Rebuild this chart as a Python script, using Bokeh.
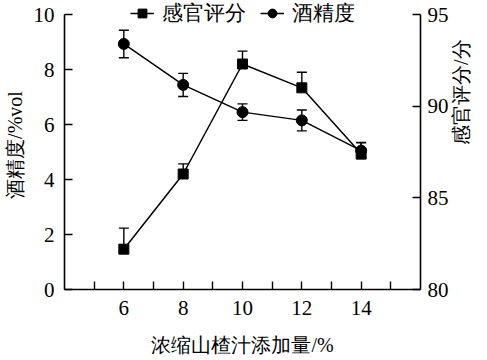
import math
from bokeh.plotting import figure
from bokeh.models import (Range1d, LinearAxis, FixedTicker, Whisker, TeeHead,
                          ColumnDataSource, Legend, LegendItem)
from bokeh.embed import file_html
from bokeh.resources import INLINE

# data
x = [6, 8, 10, 12, 14]
alcohol = [8.93, 7.44, 6.45, 6.15, 5.05]
alcohol_err = [0.5, 0.42, 0.3, 0.38, 0.3]
score = [82.2, 86.3, 92.3, 91.0, 87.4]
score_err = [1.15, 0.55, 0.7, 0.85, 0.6]
x_ticks = [6, 8, 10, 12, 14]
x_minor = [5, 7, 9, 11, 13, 15]
left_ticks = [0, 2, 4, 6, 8, 10]
right_ticks = [80, 85, 90, 95]
xlabel = "浓缩山楂汁添加量/%"
ylabel_left = "酒精度/%vol"
ylabel_right = "感官评分/分"
name_score = "感官评分"
name_alcohol = "酒精度"

FONT = "Liberation Serif"

# frame spans canvas y 0..289; axis lines run from value 0 (y=289) to 10 (y=14)
EXT = 289 / 275

src_a = ColumnDataSource(dict(x=x, y=alcohol,
                              lo=[a - e for a, e in zip(alcohol, alcohol_err)],
                              hi=[a + e for a, e in zip(alcohol, alcohol_err)]))
src_s = ColumnDataSource(dict(x=x, y=score,
                              hi=[s + e for s, e in zip(score, score_err)]))

p = figure(width=487, height=360, output_backend="svg", toolbar_location=None,
           x_range=Range1d(4, 16), y_range=Range1d(0, 10 * EXT),
           min_border_left=64, min_border_right=67, min_border_top=0,
           min_border_bottom=71)
p.extra_y_ranges = {"score": Range1d(80, 80 + 15 * EXT)}
p.outline_line_color = None
p.grid.grid_line_color = None
p.background_fill_color = "white"

def style_axis(ax):
    ax.axis_line_width = 1.6
    ax.axis_line_color = "black"
    ax.major_tick_in = 8
    ax.major_tick_out = 0
    ax.minor_tick_in = 8
    ax.minor_tick_out = 0
    ax.major_tick_line_width = 1.4
    ax.minor_tick_line_width = 1.4
    ax.major_label_text_font = FONT
    ax.major_label_text_font_size = "21px"
    ax.major_label_text_color = "black"
    ax.axis_label_text_font = FONT
    ax.axis_label_text_font_size = "20px"
    ax.axis_label_text_font_style = "normal"
    ax.axis_label_text_color = "black"

xa = p.xaxis[0]
xa.ticker = FixedTicker(ticks=x_ticks, minor_ticks=x_minor)
xa.axis_label = xlabel
style_axis(xa)
xa.major_label_standoff = 11
xa.axis_label_standoff = 16

ya = p.yaxis[0]
ya.ticker = FixedTicker(ticks=left_ticks, minor_ticks=[])
ya.bounds = (0, 10)
ya.axis_label = ylabel_left
style_axis(ya)
ya.major_label_standoff = 10
ya.axis_label_standoff = 5

yr = LinearAxis(y_range_name="score", axis_label=ylabel_right,
                ticker=FixedTicker(ticks=right_ticks, minor_ticks=[]),
                bounds=(80, 95))
style_axis(yr)
yr.major_label_standoff = 7
yr.axis_label_standoff = 9
yr.axis_label_orientation = math.pi / 2
p.add_layout(yr, "right")

# alcohol series
la = p.line("x", "y", source=src_a, line_color="black", line_width=1.5)
ca = p.scatter("x", "y", source=src_a, marker="circle", size=11,
               fill_color="black", line_color="black")
p.add_layout(Whisker(source=src_a, base="x", lower="lo", upper="hi",
                     line_color="black", line_width=1.4,
                     lower_head=TeeHead(size=10, line_width=1.4),
                     upper_head=TeeHead(size=10, line_width=1.4)))

# score series
ls = p.line("x", "y", source=src_s, line_color="black", line_width=1.5,
            y_range_name="score")
ss = p.scatter("x", "y", source=src_s, marker="square", size=10,
               fill_color="black", line_color="black", y_range_name="score")
p.add_layout(Whisker(source=src_s, base="x", lower="y", upper="hi",
                     y_range_name="score", line_color="black", line_width=1.4,
                     lower_head=None,
                     upper_head=TeeHead(size=10, line_width=1.4)))

legend = Legend(items=[LegendItem(label=name_score, renderers=[ls, ss]),
                       LegendItem(label=name_alcohol, renderers=[la, ca])],
                orientation="horizontal", location=(66, 262),
                padding=0, margin=0, spacing=14, label_standoff=8,
                glyph_width=24, glyph_height=22,
                label_text_font=FONT, label_text_font_size="21px",
                label_text_color="black",
                background_fill_alpha=0, border_line_alpha=0)
p.add_layout(legend)

open("out.html", "w").write(file_html(p, INLINE))
